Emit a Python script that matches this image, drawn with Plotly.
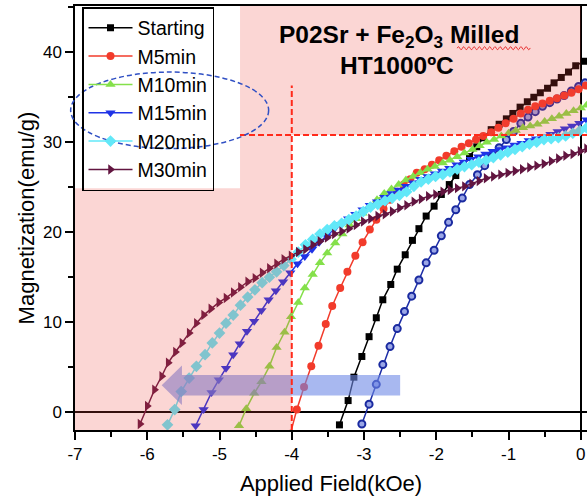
import numpy as np
import plotly.graph_objects as go

# ---- data: magnetization (emu/g) vs applied field (kOe), demagnetizing branch ----
start_x = [-3.34, -3.22, -3.14, -3.03, -2.93, -2.83, -2.74, -2.63, -2.54, -2.43, -2.33, -2.24,
           -2.14, -2.03, -1.93, -1.82, -1.73, -1.63, -1.54, -1.44, -1.35, -1.24, -1.13, -1.03,
           -0.94, -0.84, -0.74, -0.65, -0.56, -0.46, -0.37, -0.27, -0.17, -0.07, 0.04]
start_y = [-1.4, 1.3, 3.9, 6.2, 8.4, 10.5, 12.5, 14.2, 15.9, 17.5, 19.1, 20.4,
           21.8, 22.9, 24.2, 25.3, 26.3, 27.4, 28.4, 29.5, 30.5, 31.4, 32.0, 32.6,
           33.2, 33.9, 34.5, 35.0, 35.5, 36.0, 36.6, 37.2, 37.8, 38.5, 39.0]

m5_x = [-4.02, -3.93, -3.83, -3.73, -3.63, -3.53, -3.44, -3.33, -3.23, -3.12, -3.02, -2.92,
        -2.83, -2.73, -2.64, -2.54, -2.45, -2.36, -2.27, -2.16, -2.06, -1.96, -1.86, -1.75,
        -1.65, -1.55, -1.45, -1.35, -1.24, -1.14, -1.04, -0.93, -0.83, -0.73, -0.63, -0.53,
        -0.43, -0.33, -0.23, -0.13, -0.03, 0.07]
m5_y = [-2.4, 0.3, 2.8, 5.1, 7.4, 9.8, 11.8, 13.8, 15.6, 17.4, 18.9, 20.3,
        21.4, 22.6, 23.6, 24.5, 25.3, 25.9, 26.6, 27.0, 27.5, 28.0, 28.5, 29.0,
        29.5, 29.9, 30.3, 30.7, 31.1, 31.6, 32.1, 32.6, 33.2, 33.6, 34.0, 34.3,
        34.6, 34.9, 35.2, 35.5, 35.9, 36.3]

m10_x = [-4.73, -4.63, -4.52, -4.42, -4.31, -4.21, -4.10, -4.01, -3.91, -3.82, -3.71, -3.61,
         -3.51, -3.40, -3.30, -3.20, -3.11, -3.02, -2.92, -2.82, -2.72, -2.62, -2.52, -2.42,
         -2.32, -2.22, -2.12, -2.02, -1.91, -1.81, -1.71, -1.61, -1.50, -1.40, -1.30, -1.20,
         -1.10, -1.00, -0.90, -0.80, -0.70, -0.60, -0.50, -0.40, -0.30, -0.20, -0.10, 0.00, 0.08]
m10_y = [-1.5, 0.4, 2.1, 3.4, 5.1, 7.2, 8.9, 10.6, 12.2, 13.8, 15.3, 16.6,
         17.7, 18.8, 19.8, 20.8, 21.5, 22.1, 22.9, 23.6, 24.3, 24.8, 25.3, 25.8,
         26.2, 26.6, 27.0, 27.3, 27.7, 28.0, 28.4, 28.8, 29.2, 29.6, 30.0, 30.3,
         30.7, 31.0, 31.3, 31.6, 31.8, 32.0, 32.3, 32.6, 32.9, 33.2, 33.5, 33.8, 34.1]

m15_x = [-5.33, -5.22, -5.11, -5.01, -4.91, -4.81, -4.72, -4.62, -4.52, -4.42, -4.32, -4.22,
         -4.12, -4.02, -3.92, -3.82, -3.72, -3.62, -3.52, -3.42, -3.32, -3.22, -3.12, -3.02,
         -2.92, -2.82, -2.72, -2.62, -2.52, -2.42, -2.32, -2.22, -2.12, -2.02, -1.92, -1.82,
         -1.72, -1.62, -1.52, -1.42, -1.32, -1.22, -1.12, -1.02, -0.92, -0.82, -0.72, -0.62,
         -0.52, -0.42, -0.32, -0.22, -0.12, -0.02, 0.08]
m15_y = [-1.5, 0.3, 2.2, 3.6, 4.9, 6.4, 7.6, 9.0, 10.1, 11.3, 12.5, 13.5,
         14.5, 15.5, 16.5, 17.3, 18.1, 18.9, 19.6, 20.3, 20.9, 21.5, 22.0, 22.5,
         23.0, 23.4, 23.9, 24.3, 24.7, 25.1, 25.5, 25.9, 26.2, 26.5, 26.8, 27.1,
         27.5, 27.8, 28.1, 28.4, 28.7, 29.0, 29.2, 29.4, 29.7, 29.9, 30.2, 30.4,
         30.6, 30.9, 31.2, 31.5, 31.8, 32.1, 32.5]

m20_x = [-5.72, -5.62, -5.53, -5.42, -5.32, -5.20, -5.10, -5.00, -4.91, -4.81, -4.71, -4.61,
         -4.51, -4.41, -4.31, -4.21, -4.11, -4.01, -3.91, -3.81, -3.71, -3.61, -3.51, -3.41,
         -3.31, -3.21, -3.11, -3.01, -2.91, -2.81, -2.71, -2.61, -2.51, -2.41, -2.31, -2.21,
         -2.11, -2.01, -1.91, -1.81, -1.71, -1.61, -1.51, -1.41, -1.31, -1.21, -1.11, -1.01,
         -0.91, -0.81, -0.71, -0.61, -0.51, -0.41, -0.31, -0.21, -0.11, -0.01, 0.08]
m20_y = [-1.4, 0.3, 2.3, 3.8, 5.1, 6.4, 7.7, 8.8, 9.9, 10.8, 11.9, 12.8,
         13.6, 14.4, 15.0, 15.6, 16.3, 17.0, 17.8, 18.6, 19.2, 19.8, 20.3, 20.7,
         21.0, 21.4, 21.8, 22.3, 22.8, 23.1, 23.5, 23.8, 24.1, 24.5, 25.1, 25.6,
         25.9, 26.2, 26.4, 26.7, 27.0, 27.3, 27.5, 27.8, 28.0, 28.3, 28.6, 28.9,
         29.2, 29.5, 29.8, 30.0, 30.3, 30.4, 30.5, 30.7, 31.0, 31.3, 31.6]

m30_x = [-6.10, -6.00, -5.90, -5.80, -5.71, -5.61, -5.52, -5.42, -5.32, -5.22, -5.12, -5.01,
         -4.91, -4.81, -4.71, -4.61, -4.51, -4.41, -4.31, -4.21, -4.11, -4.01, -3.91, -3.81,
         -3.71, -3.61, -3.51, -3.41, -3.31, -3.21, -3.11, -3.01, -2.91, -2.81, -2.71, -2.61,
         -2.51, -2.41, -2.31, -2.21, -2.11, -2.01, -1.91, -1.81, -1.71, -1.61, -1.51, -1.41,
         -1.31, -1.21, -1.11, -1.01, -0.91, -0.81, -0.71, -0.61, -0.51, -0.41, -0.31, -0.21,
         -0.11, -0.01, 0.08]
m30_y = [-1.3, 0.7, 2.5, 4.0, 5.5, 6.7, 7.7, 8.8, 9.9, 10.8, 11.5, 12.2,
         12.7, 13.3, 13.9, 14.5, 14.9, 15.5, 16.0, 16.5, 17.0, 17.4, 17.8, 18.1,
         18.6, 19.0, 19.4, 19.8, 20.1, 20.4, 20.8, 21.2, 21.5, 21.8, 22.0, 22.3,
         22.7, 23.0, 23.4, 23.7, 24.0, 24.2, 24.5, 24.7, 24.9, 25.1, 25.4, 25.7,
         26.0, 26.2, 26.4, 26.6, 26.8, 27.0, 27.2, 27.4, 27.6, 27.9, 28.2, 28.5,
         28.7, 29.0, 29.3]

# reference sample (not listed in the legend)
ref_x = [-3.03, -2.93, -2.83, -2.74, -2.64, -2.54, -2.44, -2.34, -2.24, -2.14, -2.03, -1.93,
         -1.83, -1.73, -1.64, -1.54, -1.43, -1.33, -1.23, -1.13, -1.03, -0.93, -0.83, -0.73,
         -0.63, -0.53, -0.43, -0.33, -0.23, -0.13, -0.03, 0.06]
ref_y = [-1.3, 0.9, 3.1, 5.3, 7.3, 9.3, 11.2, 12.9, 14.7, 16.6, 18.0, 19.6,
         21.1, 22.5, 23.8, 25.3, 26.4, 27.4, 28.4, 29.4, 30.3, 31.2, 32.1, 32.8,
         33.4, 34.0, 34.4, 34.8, 35.2, 35.7, 36.2, 36.6]

x_ticks = [-7, -6, -5, -4, -3, -2, -1, 0]
y_ticks = [0, 10, 20, 30, 40]

# annotation levels
field_cut = -4.0       # vertical dashed guide (kOe)
mag_cut = 30.8         # horizontal dashed guide (emu/g)
arrow_tail, arrow_neck, arrow_tip = -2.5, -5.52, -5.80
arrow_mid, arrow_half_body, arrow_half_head = 3.0, 1.15, 2.2

X_RANGE = [-7.0, 0.086]
Y_RANGE = [-1.97, 45.14]

FONT = "Liberation Sans, Arial, sans-serif"

fig = go.Figure()


def add_series(x, y, name, color, symbol, size, line_color=None, show=True, mline=None):
    marker = dict(symbol=symbol, size=size, color=color)
    if mline:
        marker["line"] = mline
    fig.add_trace(go.Scatter(
        x=x, y=y, name=name, mode="lines+markers", showlegend=show,
        line=dict(color=line_color or color, width=1.5),
        marker=marker, cliponaxis=True,
    ))


add_series(ref_x, ref_y, "ref", "#9aa6e6", "circle", 7, line_color="#1d2da6", show=False,
           mline=dict(color="#1a2aa0", width=2))
add_series(start_x, start_y, "Starting", "#000000", "square", 7)
add_series(m5_x, m5_y, "M5min", "#f23b2b", "circle", 8)
add_series(m10_x, m10_y, "M10min", "#84e04a", "triangle-up", 9)
add_series(m15_x, m15_y, "M15min", "#1f33e6", "triangle-down", 9)
add_series(m20_x, m20_y, "M20min", "#62e8f8", "diamond", 9)
add_series(m30_x, m30_y, "M30min", "#621540", "triangle-right", 9)

shapes = []

# translucent arrow pointing towards higher coercivity
arrow_path = (
    f"M {arrow_tail},{arrow_mid - arrow_half_body} "
    f"L {arrow_neck},{arrow_mid - arrow_half_body} "
    f"L {arrow_neck},{arrow_mid - arrow_half_head} "
    f"L {arrow_tip},{arrow_mid} "
    f"L {arrow_neck},{arrow_mid + arrow_half_head} "
    f"L {arrow_neck},{arrow_mid + arrow_half_body} "
    f"L {arrow_tail},{arrow_mid + arrow_half_body} Z"
)
shapes.append(dict(type="path", path=arrow_path, xref="x", yref="y", layer="above",
                   fillcolor="rgba(110,137,230,0.6)", line=dict(width=0)))

# translucent pink tint over the low-field and high-magnetization zones
pink_path = (
    f"M {X_RANGE[0]},{Y_RANGE[0] - 1} L {field_cut},{Y_RANGE[0] - 1} "
    f"L {field_cut},{mag_cut} L 0,{mag_cut} L 0,{Y_RANGE[1] + 1} "
    f"L {X_RANGE[0]},{Y_RANGE[1] + 1} Z"
)
shapes.append(dict(type="path", path=pink_path, xref="x", yref="y", layer="above",
                   fillcolor="rgba(235,70,60,0.22)", line=dict(width=0)))

# white box behind the legend
legend_right = -4.716
shapes.append(dict(type="rect", xref="x", yref="y", layer="above",
                   x0=X_RANGE[0] - 0.2, x1=legend_right, y0=24.9, y1=Y_RANGE[1] + 1,
                   fillcolor="white", line=dict(width=0)))

# dashed guide lines
shapes.append(dict(type="line", xref="x", yref="y", layer="above",
                   x0=field_cut, x1=field_cut, y0=Y_RANGE[0], y1=36.3,
                   line=dict(color="#ff2a1a", width=2, dash="6px,3px")))
shapes.append(dict(type="line", xref="x", yref="y", layer="above",
                   x0=legend_right, x1=X_RANGE[1], y0=mag_cut, y1=mag_cut,
                   line=dict(color="#ff2a1a", width=2, dash="6px,3px")))


def px_x(v):
    return (v - X_RANGE[0]) / (X_RANGE[1] - X_RANGE[0])


def px_y(v):
    return (v - Y_RANGE[0]) / (Y_RANGE[1] - Y_RANGE[0])


# dashed ellipse around the middle legend rows
shapes.append(dict(type="circle", xref="paper", yref="paper", layer="above",
                   x0=px_x(-7.06), x1=px_x(-4.32), y0=px_y(29.3), y1=px_y(37.8),
                   line=dict(color="#3050c4", width=1.5, dash="5px,3px")))

# wavy underline below "Milled"
wx = np.linspace(-1.71, -0.70, 100)
wy = 40.45 + 0.17 * np.sin((wx - wx[0]) / 0.072 * 2 * np.pi)
wave = "M " + " L ".join(f"{a:.4f},{b:.4f}" for a, b in zip(wx, wy))
shapes.append(dict(type="path", path=wave, xref="x", yref="y", layer="above",
                   line=dict(color="#e83030", width=1)))

fig.update_layout(shapes=shapes)

title_font = dict(family=FONT, size=24.5, color="black")
fig.add_annotation(
    x=-2.51, y=41.8, xref="x", yref="y", xanchor="center", yanchor="middle",
    text="<b>P02Sr + Fe<sub>2</sub>O<sub>3</sub> Milled</b>",
    showarrow=False, font=title_font,
)
fig.add_annotation(
    x=-2.55, y=38.55, xref="x", yref="y", xanchor="center", yanchor="middle",
    text="<b>HT1000ºC</b>", showarrow=False, font=title_font,
)

fig.update_layout(
    width=587, height=499,
    margin=dict(l=75, r=0, t=6, b=69, autoexpand=False),
    paper_bgcolor="white", plot_bgcolor="white",
    font=dict(family=FONT, color="black"),
    showlegend=True,
    legend=dict(
        x=px_x(-6.903), y=1 - 1.0 / 424, xanchor="left", yanchor="top",
        bgcolor="rgba(0,0,0,0)", bordercolor="black", borderwidth=1.5,
        font=dict(family=FONT, size=19.5, color="black"),
        itemwidth=44, tracegroupgap=0,
    ),
    xaxis=dict(
        range=X_RANGE, tickvals=x_ticks, ticktext=[str(v) for v in x_ticks],
        ticks="outside", ticklen=8, tickwidth=1.5, tickcolor="black",
        minor=dict(dtick=0.5, ticks="outside", ticklen=5, tickwidth=1.5, tickcolor="black"),
        showline=True, linecolor="black", linewidth=1.5, mirror=True,
        showgrid=False, zeroline=True, zerolinecolor="black", zerolinewidth=1.5,
        tickfont=dict(family=FONT, size=17, color="black"),
        title=dict(text="Applied Field(kOe)", font=dict(family=FONT, size=22, color="black"),
                   standoff=12),
    ),
    yaxis=dict(
        range=Y_RANGE, tickvals=y_ticks, ticktext=[str(v) for v in y_ticks],
        ticks="outside", ticklen=8, tickwidth=1.5, tickcolor="black",
        minor=dict(dtick=5, ticks="outside", ticklen=5, tickwidth=1.5, tickcolor="black"),
        showline=True, linecolor="black", linewidth=1.5, mirror=False,
        showgrid=False, zeroline=True, zerolinecolor="black", zerolinewidth=1.5,
        tickfont=dict(family=FONT, size=17, color="black"),
        title=dict(text="Magnetization(emu/g)", font=dict(family=FONT, size=22, color="black"),
                   standoff=2),
    ),
)

fig.write_html("out.html")
